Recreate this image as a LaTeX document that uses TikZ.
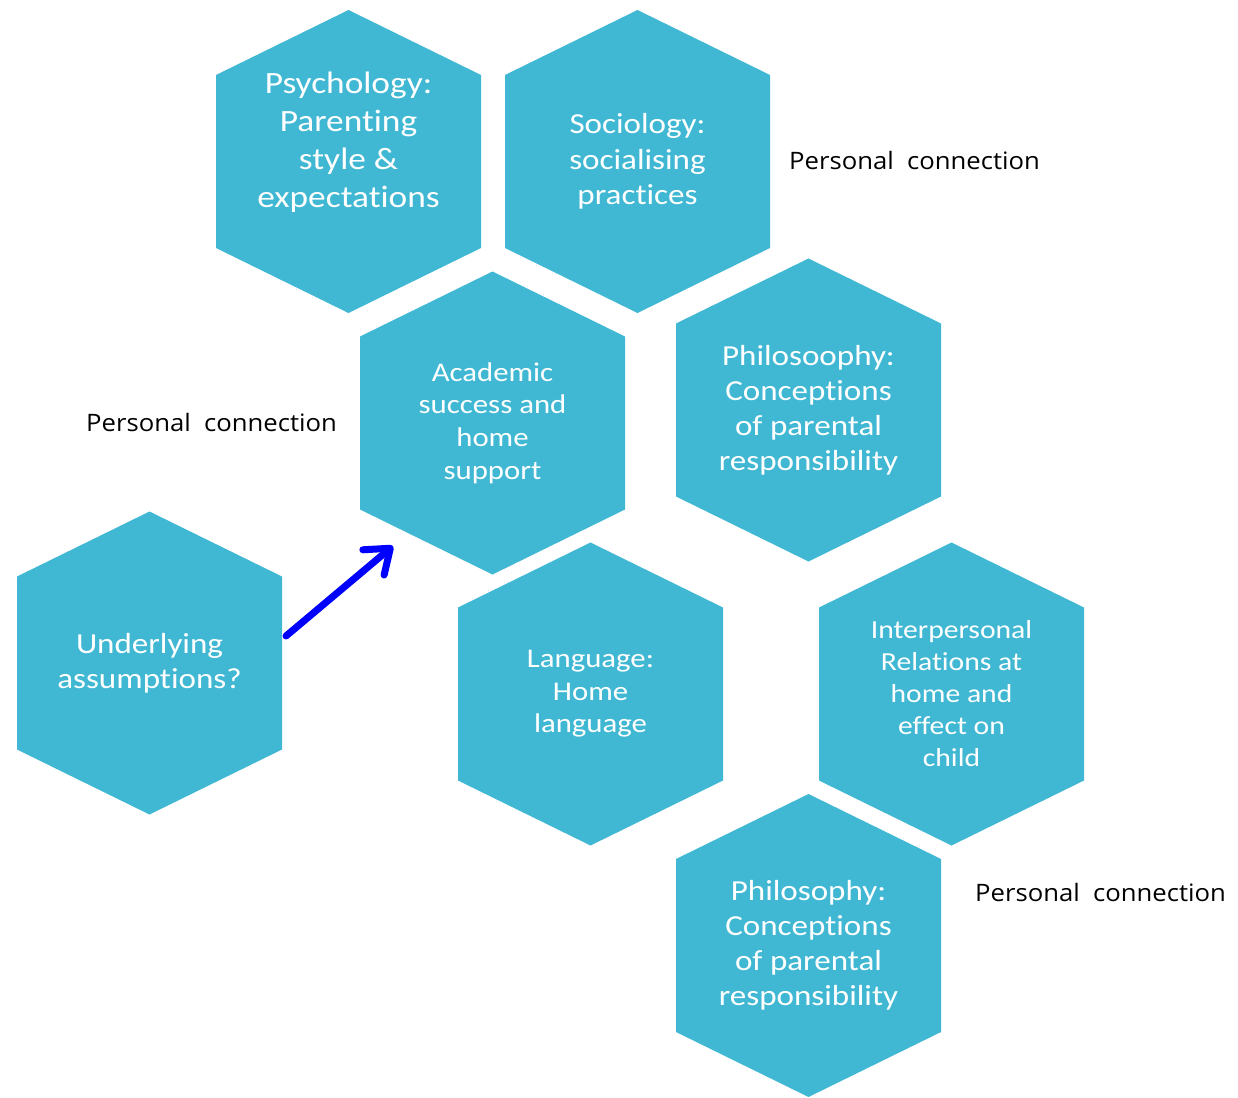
\documentclass[tikz,border=0pt]{standalone}
\usepackage{fontspec}
\setmainfont[FakeStretch=1.14,Ligatures={NoCommon,NoContextual},RawFeature={-liga;-clig;-dlig}]{Carlito}
\newfontfamily\notefont[FakeStretch=1.07]{Open Sans}
\usetikzlibrary{arrows.meta}
\definecolor{hexblue}{RGB}{65,184,211}
\definecolor{arrowblue}{RGB}{0,0,255}
\tikzset{
  hexfill/.style={fill=hexblue},
  hextext/.style={text=white, align=center, inner sep=0pt},
  note/.style={font=\notefont\fontsize{24}{29}\selectfont, text=black, inner sep=0pt, anchor=west},
  linkarrow/.style={draw=arrowblue, line width=7pt, line cap=round,
    -{Straight Barb[length=22pt,width=33pt,line cap=round,line join=round]}}
}
% hexagon cell: name, centre x, centre y, font size, line spacing, text
\newcommand\hexcell[6]{%
  \begin{scope}[shift={(#2,#3)}]
    \fill[hexfill] (0,-151.5) -- (132.5,-86.5) -- (132.5,86.5) -- (0,151.5)
      -- (-132.5,86.5) -- (-132.5,-86.5) -- cycle;
  \end{scope}
  \node[hextext, font=\fontsize{#4}{#5}\selectfont] (#1) at (#2,#3) {#6};
}
\begin{document}
\begin{tikzpicture}[x=1pt,y=-1pt]
  \useasboundingbox (0,0) rectangle (1238,1097);

  \begin{scope}[shift={(348.5,161.5)}]
    \fill[hexfill] (0,-151.5) -- (132.5,-86.5) -- (132.5,86.5) -- (0,151.5)
      -- (-132.5,86.5) -- (-132.5,-86.5) -- cycle;
  \end{scope}
  \node[hextext, font=\fontsize{31}{38}\selectfont] (psych) at (348.5,142)
    {Psychology:\\Parenting\\style \&\\expectations};

  \hexcell{socio}{637.5}{161.5}{29}{35.5}{Sociology:\\socialising\\practices}
  \hexcell{academic}{492.5}{423}{27}{32.7}{Academic\\success and\\home\\support}
  \hexcell{philoA}{808.5}{410}{29}{35}{Philosoophy:\\Conceptions\\of parental\\responsibility}
  \hexcell{under}{149.5}{663}{29}{35}{Underlying\\assumptions?}
  \hexcell{lang}{590.5}{694}{27}{32.5}{Language:\\Home\\language}
  \hexcell{inter}{951.5}{694}{26}{32}{Interpersonal\\Relations at\\home and\\effect on\\child}
  \hexcell{philoB}{808.5}{945.5}{29}{35}{Philosophy:\\Conceptions\\of parental\\responsibility}

  \node[note] (pc1) at (789,160) {Personal\ \ connection};
  \node[note] (pc2) at (86,422) {Personal\ \ connection};
  \node[note] (pc3) at (975,892) {Personal\ \ connection};

  \coordinate (arrowfrom) at (286,636);
  \coordinate (arrowto) at (393,546);
  \draw[linkarrow] (arrowfrom) -- (arrowto);
\end{tikzpicture}
\end{document}
